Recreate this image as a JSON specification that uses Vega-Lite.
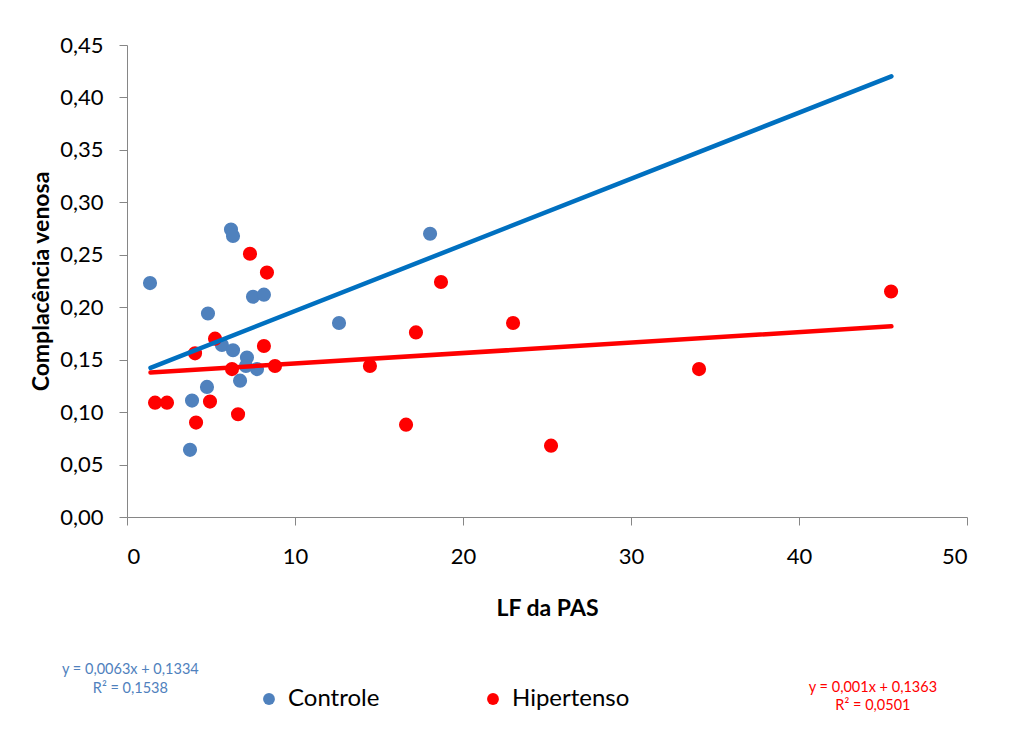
{
  "$schema": "https://vega.github.io/schema/vega-lite/v6.json",
  "width": 840,
  "height": 472,
  "autosize": {"type": "none"},
  "padding": {"left": 127, "top": 45, "right": 43, "bottom": 217},
  "background": "white",
  "config": {
    "font": "Lato",
    "view": {"stroke": null},
    "locale": {"number": {"decimal": ",", "thousands": ".", "grouping": [3], "currency": ["", ""]}},
    "axis": {"grid": false, "domainColor": "#868686", "tickColor": "#868686", "tickSize": 8, "labelFontSize": 22, "labelColor": "#000000", "labelFont": "Lato", "titleFont": "Lato", "titleFontSize": 23, "titleFontWeight": "bold", "titleColor": "#000000"}
  },
  "datasets": {
    "pts": [
      {"LF": 1.37, "CV": 0.223, "Grupo": "Controle"},
      {"LF": 6.19, "CV": 0.274, "Grupo": "Controle"},
      {"LF": 6.31, "CV": 0.268, "Grupo": "Controle"},
      {"LF": 4.82, "CV": 0.194, "Grupo": "Controle"},
      {"LF": 7.50, "CV": 0.210, "Grupo": "Controle"},
      {"LF": 8.15, "CV": 0.212, "Grupo": "Controle"},
      {"LF": 18.04, "CV": 0.270, "Grupo": "Controle"},
      {"LF": 12.62, "CV": 0.185, "Grupo": "Controle"},
      {"LF": 5.65, "CV": 0.164, "Grupo": "Controle"},
      {"LF": 6.31, "CV": 0.159, "Grupo": "Controle"},
      {"LF": 7.14, "CV": 0.152, "Grupo": "Controle"},
      {"LF": 7.08, "CV": 0.144, "Grupo": "Controle"},
      {"LF": 7.74, "CV": 0.141, "Grupo": "Controle"},
      {"LF": 6.73, "CV": 0.130, "Grupo": "Controle"},
      {"LF": 4.76, "CV": 0.124, "Grupo": "Controle"},
      {"LF": 3.87, "CV": 0.111, "Grupo": "Controle"},
      {"LF": 3.75, "CV": 0.064, "Grupo": "Controle"},
      {"LF": 7.32, "CV": 0.251, "Grupo": "Hipertenso"},
      {"LF": 8.33, "CV": 0.233, "Grupo": "Hipertenso"},
      {"LF": 5.24, "CV": 0.170, "Grupo": "Hipertenso"},
      {"LF": 4.05, "CV": 0.156, "Grupo": "Hipertenso"},
      {"LF": 8.15, "CV": 0.163, "Grupo": "Hipertenso"},
      {"LF": 6.25, "CV": 0.141, "Grupo": "Hipertenso"},
      {"LF": 8.81, "CV": 0.144, "Grupo": "Hipertenso"},
      {"LF": 1.67, "CV": 0.109, "Grupo": "Hipertenso"},
      {"LF": 2.38, "CV": 0.109, "Grupo": "Hipertenso"},
      {"LF": 4.94, "CV": 0.110, "Grupo": "Hipertenso"},
      {"LF": 4.11, "CV": 0.090, "Grupo": "Hipertenso"},
      {"LF": 6.61, "CV": 0.098, "Grupo": "Hipertenso"},
      {"LF": 18.69, "CV": 0.224, "Grupo": "Hipertenso"},
      {"LF": 17.20, "CV": 0.176, "Grupo": "Hipertenso"},
      {"LF": 22.98, "CV": 0.185, "Grupo": "Hipertenso"},
      {"LF": 14.46, "CV": 0.144, "Grupo": "Hipertenso"},
      {"LF": 16.61, "CV": 0.088, "Grupo": "Hipertenso"},
      {"LF": 25.24, "CV": 0.068, "Grupo": "Hipertenso"},
      {"LF": 34.05, "CV": 0.141, "Grupo": "Hipertenso"},
      {"LF": 45.48, "CV": 0.215, "Grupo": "Hipertenso"}
    ],
    "trend": [
      {"LF": 1.4, "CV": 0.1422, "Grupo": "Controle"},
      {"LF": 45.5, "CV": 0.4201, "Grupo": "Controle"},
      {"LF": 1.4, "CV": 0.1377, "Grupo": "Hipertenso"},
      {"LF": 45.5, "CV": 0.1818, "Grupo": "Hipertenso"}
    ],
    "eq": [
      {"LF": 0.2, "CV": -0.146, "texto": "y = 0,0063x + 0,1334", "Grupo": "Controle"},
      {"LF": 0.2, "CV": -0.164, "texto": "R² = 0,1538", "Grupo": "Controle"},
      {"LF": 44.4, "CV": -0.163, "texto": "y = 0,001x + 0,1363", "Grupo": "Hipertenso"},
      {"LF": 44.4, "CV": -0.180, "texto": "R² = 0,0501", "Grupo": "Hipertenso"}
    ]
  },
  "layer": [
    {
      "data": {"name": "pts"},
      "mark": {"type": "circle", "size": 200, "opacity": 1},
      "encoding": {
        "x": {"field": "LF", "type": "quantitative", "scale": {"domain": [0, 50], "nice": false}, "axis": {"values": [0, 10, 20, 30, 40, 50], "title": "LF da PAS", "labelPadding": 21, "titlePadding": 30}},
        "y": {"field": "CV", "type": "quantitative", "scale": {"domain": [0, 0.45], "nice": false}, "axis": {"values": [0, 0.05, 0.1, 0.15, 0.2, 0.25, 0.3, 0.35, 0.4, 0.45], "format": ".2f", "title": "Complacência venosa", "labelPadding": 16, "titlePadding": 6}},
        "color": {"field": "Grupo", "type": "nominal", "scale": {"domain": ["Controle", "Hipertenso"], "range": ["#4F81BD", "#FF0000"]},
          "legend": {"title": null, "orient": "none", "direction": "horizontal", "legendX": 130, "legendY": 642, "labelFontSize": 24, "labelFont": "Lato", "labelColor": "#000000", "symbolType": "circle", "symbolSize": 140, "symbolOpacity": 1, "columnPadding": 101, "labelOffset": 7}}
      }
    },
    {
      "data": {"name": "trend"},
      "mark": {"type": "line", "strokeWidth": 4.5, "strokeCap": "round"},
      "encoding": {
        "x": {"field": "LF", "type": "quantitative"},
        "y": {"field": "CV", "type": "quantitative"},
        "color": {"field": "Grupo", "type": "nominal", "scale": {"domain": ["Controle", "Hipertenso"], "range": ["#0070C0", "#FF0000"]}, "legend": null}
      }
    },
    {
      "data": {"name": "eq"},
      "mark": {"type": "text", "fontSize": 14.5, "font": "Lato", "align": "center", "baseline": "middle", "clip": false},
      "encoding": {
        "x": {"field": "LF", "type": "quantitative"},
        "y": {"field": "CV", "type": "quantitative"},
        "text": {"field": "texto"},
        "color": {"field": "Grupo", "type": "nominal", "scale": {"domain": ["Controle", "Hipertenso"], "range": ["#4F81BD", "#FF0000"]}, "legend": null}
      }
    }
  ],
  "resolve": {"scale": {"color": "independent"}}
}
